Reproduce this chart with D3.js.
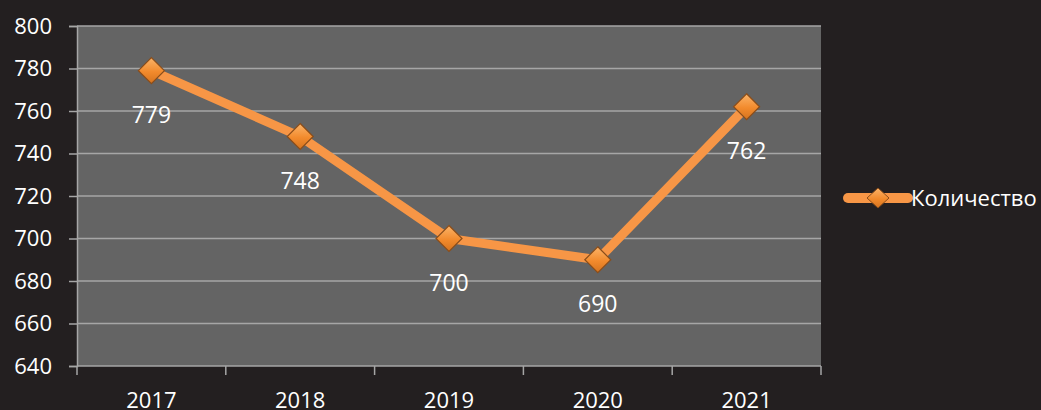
<!DOCTYPE html>
<html>
<head>
<meta charset="utf-8">
<script src="https://cdn.jsdelivr.net/npm/d3@7"></script>
<style>
  body { margin: 0; background: #231f20; }
  svg { display: block; }
</style>
</head>
<body>
<div id="chart"></div>
<script>
// data
var years = ["2017", "2018", "2019", "2020", "2021"];
var counts = [779, 748, 700, 690, 762];
var yTicks = [640, 660, 680, 700, 720, 740, 760, 780, 800];
var seriesName = "Количество";

var svgWidth = 1041;
var svgHeight = 410;

var margin = { top: 26, right: 220, bottom: 44, left: 77 };
var chartWidth = svgWidth - margin.left - margin.right;   // 744
var chartHeight = svgHeight - margin.top - margin.bottom; // 340

var svg = d3.select("#chart")
  .append("svg")
  .attr("width", svgWidth)
  .attr("height", svgHeight)
  .style("font-family", "'Open Sans', 'Noto Sans', sans-serif");

var defs = svg.append("defs");
var grad = defs.append("linearGradient")
  .attr("id", "mk")
  .attr("x1", "0").attr("y1", "0").attr("x2", "0").attr("y2", "1");
grad.append("stop").attr("offset", "0%").attr("stop-color", "#fbb469");
grad.append("stop").attr("offset", "55%").attr("stop-color", "#f28a2c");
grad.append("stop").attr("offset", "100%").attr("stop-color", "#d4731f");

var chartGroup = svg.append("g")
  .attr("transform", `translate(${margin.left}, ${margin.top})`);

// plot background
chartGroup.append("rect")
  .attr("width", chartWidth)
  .attr("height", chartHeight)
  .attr("fill", "#646464");

var xBand = d3.scaleBand()
  .domain(years)
  .range([0, chartWidth]);

var yScale = d3.scaleLinear()
  .domain([640, 800])
  .range([chartHeight, 0]);

// gridlines
chartGroup.append("g")
  .selectAll("line")
  .data(yTicks.slice(1))
  .enter().append("line")
  .attr("x1", 0)
  .attr("x2", chartWidth)
  .attr("y1", d => yScale(d))
  .attr("y2", d => yScale(d))
  .attr("stroke", "#a6a6a6")
  .attr("stroke-width", 1.5);

// y axis
var yAxis = d3.axisLeft(yScale).tickValues(yTicks).tickSize(8).tickPadding(17);
var yG = chartGroup.append("g").call(yAxis);
yG.select(".domain").attr("stroke", "#a6a6a6").attr("stroke-width", 1.5);
yG.selectAll(".tick line").attr("stroke", "#a6a6a6").attr("stroke-width", 1.5);
yG.selectAll(".tick text")
  .attr("fill", "#ffffff")
  .attr("font-size", "22px")
  .attr("font-family", "'Open Sans', sans-serif");

// x axis: ticks on category boundaries
var xAxisG = chartGroup.append("g")
  .attr("transform", `translate(0, ${chartHeight})`);
xAxisG.append("line")
  .attr("x1", 0).attr("x2", chartWidth)
  .attr("stroke", "#a6a6a6").attr("stroke-width", 1.5);
var bounds = years.map(d => xBand(d)).concat([chartWidth]);
xAxisG.selectAll("line.tk")
  .data(bounds)
  .enter().append("line")
  .attr("class", "tk")
  .attr("x1", d => d).attr("x2", d => d)
  .attr("y1", 0).attr("y2", 9)
  .attr("stroke", "#a6a6a6").attr("stroke-width", 1.5);
xAxisG.selectAll("text")
  .data(years)
  .enter().append("text")
  .attr("x", d => xBand(d) + xBand.bandwidth() / 2)
  .attr("y", 42)
  .attr("text-anchor", "middle")
  .attr("fill", "#ffffff")
  .attr("font-size", "22px")
  .text(d => d);

// line
var pts = years.map((y, i) => ({ year: y, value: counts[i] }));
var line = d3.line()
  .x(d => xBand(d.year) + xBand.bandwidth() / 2)
  .y(d => yScale(d.value));

chartGroup.append("path")
  .datum(pts)
  .attr("d", line)
  .attr("fill", "none")
  .attr("stroke", "#f79646")
  .attr("stroke-width", 9)
  .attr("stroke-linejoin", "round");

// markers
var diamond = "M0,-13 L13,0 L0,13 L-13,0 Z";
chartGroup.selectAll("path.dot")
  .data(pts)
  .enter().append("path")
  .attr("class", "dot")
  .attr("d", diamond)
  .attr("transform", d => `translate(${xBand(d.year) + xBand.bandwidth() / 2}, ${yScale(d.value)})`)
  .attr("fill", "url(#mk)")
  .attr("stroke", "#8a4d1a")
  .attr("stroke-width", 1.2);

// data labels
chartGroup.selectAll("text.lbl")
  .data(pts)
  .enter().append("text")
  .attr("class", "lbl")
  .attr("x", d => xBand(d.year) + xBand.bandwidth() / 2)
  .attr("y", d => yScale(d.value) + 52)
  .attr("text-anchor", "middle")
  .attr("fill", "#ffffff")
  .attr("font-size", "23px")
  .text(d => d.value);

// legend
var legend = svg.append("g")
  .attr("transform", "translate(848, 198)");
legend.append("line")
  .attr("x1", 0).attr("x2", 60)
  .attr("stroke", "#f79646")
  .attr("stroke-width", 10)
  .attr("stroke-linecap", "round");
legend.append("path")
  .attr("d", "M0,-10 L11,0 L0,10 L-11,0 Z")
  .attr("transform", "translate(30,0)")
  .attr("fill", "url(#mk)")
  .attr("stroke", "#8a4d1a")
  .attr("stroke-width", 1);
legend.append("text")
  .attr("x", 63)
  .attr("y", 8)
  .attr("fill", "#ffffff")
  .attr("font-size", "22px")
  .text(seriesName);
</script>
</body>
</html>
